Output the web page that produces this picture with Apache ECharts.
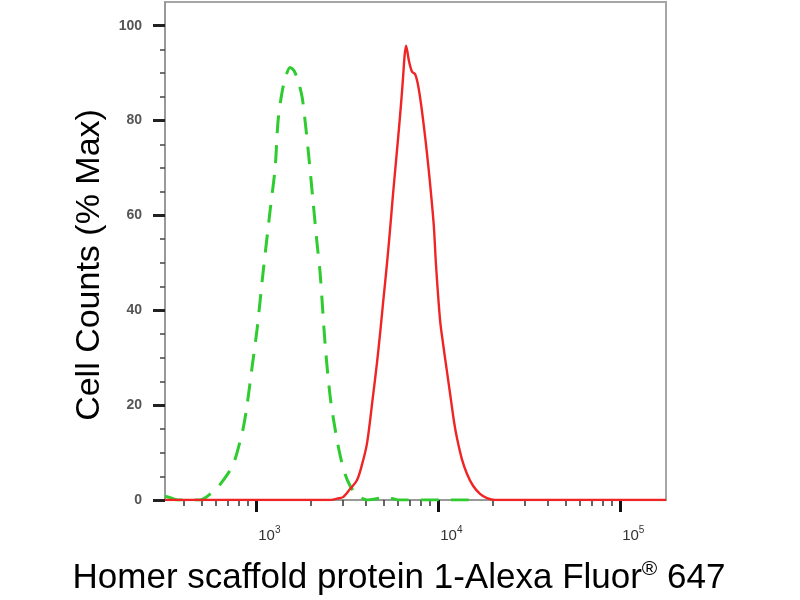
<!DOCTYPE html>
<html>
<head>
<meta charset="utf-8">
<script src="https://cdn.jsdelivr.net/npm/echarts@6/dist/echarts.min.js"></script>
<style>
html,body{margin:0;padding:0;background:#ffffff;}
#chart{width:800px;height:600px;}
</style>
</head>
<body>
<div id="chart"></div>
<script>
// Fluorescence intensity (raw channel values) and % Max counts
const redX = [315, 2544, 2780, 2999, 3276, 3580, 3814, 4063, 4383, 4610, 4788, 4974, 5233, 5435, 5644, 5863, 6089, 6246, 6406, 6528, 6653, 6911, 7178, 7457, 7745, 8044, 8356, 8679, 9055, 9450, 9725, 10231, 10627, 11178, 11611, 12215, 12686, 13513, 14398, 15536, 16973, 18540, 20510, 178600];
const redY = [0, 0, 0.3, 0.6, 2.3, 4.2, 7.5, 12, 22, 29, 35, 41.5, 50, 57, 64.5, 71.5, 78.5, 83.5, 89, 93.5, 95.8, 92.5, 90.3, 89.8, 87.5, 83.5, 78.5, 73, 66, 58, 49.5, 38, 33, 27, 22.5, 16.5, 13, 8.5, 5.5, 3, 1.3, 0.4, 0, 0];

const greenX = [315, 336, 372, 491, 530, 579, 633, 700, 746, 784, 846, 890, 948, 1010, 1090, 1191, 1269, 1318, 1386, 1458, 1534, 1613, 1697, 1785, 1854, 1926, 2051, 2159, 2242, 2388, 2544, 2710, 2886, 3075, 3276, 3490, 3719, 4062, 4494, 5038, 5575, 6167, 15500];
const greenY = [0.8, 0.5, 0, 0, 0.6, 1.8, 3.3, 5.6, 7.5, 10, 15, 20, 28, 36, 48, 61, 70, 80, 86, 89.5, 91.2, 90.5, 88.4, 85, 80, 74, 63, 54, 48, 33, 22, 15, 9.5, 5.5, 3, 1.5, 0.6, 0, 0.2, 0.6, 0.3, 0, 0];

// Axis range and ticks
const xRange = [315, 178600];
const xMajorTicks = [1000, 10000, 100000];
const xMinorTicks = [400, 500, 600, 700, 800, 900, 2000, 3000, 4000, 5000, 6000, 7000, 8000, 9000, 20000, 30000, 40000, 50000, 60000, 70000, 80000, 90000];
const yRange = [0, 105];
const yMajorTicks = [0, 20, 40, 60, 80, 100];
const yMinorTicks = [5, 10, 15, 25, 30, 35, 45, 50, 55, 65, 70, 75, 85, 90, 95];

const xTitle = 'Homer scaffold protein 1-Alexa Fluor{r|®} 647';
const yTitle = 'Cell Counts (% Max)';

const L = Math.log10;
const FONT = '"Liberation Sans", Arial, sans-serif';

const chart = echarts.init(document.getElementById('chart'), null, {renderer: 'canvas'});

const option = {
  animation: false,
  backgroundColor: '#ffffff',
  textStyle: {fontFamily: FONT},
  grid: {
    left: 165, right: 134, top: 2, bottom: 100,
    show: true, borderColor: '#a6a6a6', borderWidth: 2, backgroundColor: 'transparent',
    outerBoundsMode: 'none'
  },
  xAxis: [
    {
      type: 'value', position: 'bottom',
      min: L(xRange[0]), max: L(xRange[1]),
      axisLine: {show: true, onZero: false, lineStyle: {color: '#999999', width: 2}},
      axisTick: {show: true, customValues: xMajorTicks.map(L), length: 12, lineStyle: {color: '#111111', width: 3}},
      axisLabel: {
        show: true, customValues: xMajorTicks.map(L), margin: 25, align: 'left',
        formatter: v => '{a|10}{s|' + Math.round(v) + '}',
        rich: {
          a: {fontSize: 15, color: '#333333', fontFamily: FONT, lineHeight: 18, padding: [6, 0, 0, 2], verticalAlign: 'bottom'},
          s: {fontSize: 10, color: '#333333', fontFamily: FONT, lineHeight: 12, verticalAlign: 'top'}
        }
      },
      splitLine: {show: false},
      name: xTitle, nameLocation: 'middle', nameGap: 59,
      nameTextStyle: {
        fontSize: 35, color: '#000000', fontFamily: FONT, padding: [0, 33, 0, 0], lineHeight: 39,
        rich: {r: {fontSize: 21, color: '#000000', fontFamily: FONT, verticalAlign: 'top', lineHeight: 22}}
      }
    },
    {
      type: 'value', position: 'bottom',
      min: L(xRange[0]), max: L(xRange[1]),
      axisLine: {show: false, onZero: false},
      axisTick: {show: true, customValues: xMinorTicks.map(L), length: 6, lineStyle: {color: '#333333', width: 1.5}},
      axisLabel: {show: false},
      splitLine: {show: false}
    }
  ],
  yAxis: [
    {
      type: 'value', position: 'left',
      min: yRange[0], max: yRange[1],
      axisLine: {show: true, onZero: false, lineStyle: {color: '#999999', width: 2}},
      axisTick: {show: true, customValues: yMajorTicks, length: 12, lineStyle: {color: '#222222', width: 3}},
      axisLabel: {show: true, customValues: yMajorTicks, margin: 23, fontSize: 14, fontWeight: 'bold', color: '#555555', fontFamily: FONT},
      splitLine: {show: false},
      name: yTitle, nameLocation: 'middle', nameRotate: 90, nameGap: 58,
      nameTextStyle: {fontSize: 34, color: '#000000', fontFamily: FONT, padding: [0, 28, 0, 0]}
    },
    {
      type: 'value', position: 'left',
      min: yRange[0], max: yRange[1],
      axisLine: {show: false, onZero: false},
      axisTick: {show: true, customValues: yMinorTicks, length: 5, lineStyle: {color: '#444444', width: 1.5}},
      axisLabel: {show: false},
      splitLine: {show: false}
    }
  ],
  series: [
    {
      name: 'Isotype control',
      type: 'line', xAxisIndex: 0, yAxisIndex: 0,
      data: greenX.map((x, i) => [L(x), greenY[i]]),
      showSymbol: false, symbol: 'none', smooth: 0.3,
      lineStyle: {color: '#2ecc2e', width: 3, type: [18, 12]},
      z: 3
    },
    {
      name: 'Homer scaffold protein 1',
      type: 'line', xAxisIndex: 0, yAxisIndex: 0,
      data: redX.map((x, i) => [L(x), redY[i]]),
      showSymbol: false, symbol: 'none', smooth: 0.3,
      lineStyle: {color: '#f02424', width: 2.4},
      z: 4
    }
  ]
};
chart.setOption(option);
</script>
</body>
</html>
